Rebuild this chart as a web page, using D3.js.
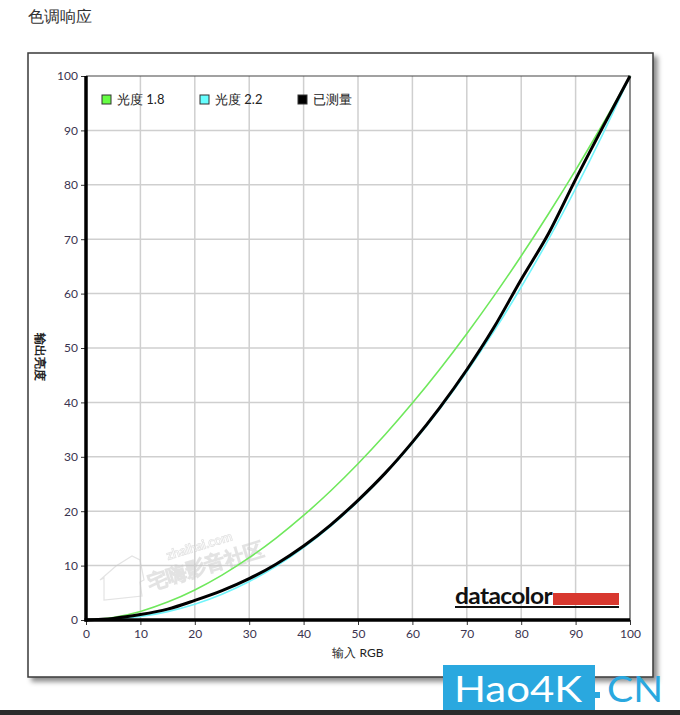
<!DOCTYPE html>
<html><head><meta charset="utf-8">
<script src="https://cdn.jsdelivr.net/npm/d3@7"></script>
<style>
body{margin:0;background:#fff;}
svg{display:block;}
text{font-family:"Lato","Open Sans","DejaVu Sans",sans-serif;}
</style></head>
<body><svg id="c" width="680" height="715"></svg>
<script>
// ---- data ----
const inputRGB = [0,5,10,15,20,25,30,35,40,45,50,55,60,65,70,75,80,85,90,95,100];
const gamma18  = [0,0.46,1.58,3.29,5.52,8.25,11.45,15.11,19.22,23.76,28.72,34.09,39.87,46.05,52.63,59.58,66.92,74.64,82.71,91.18,100];
const gamma22  = [0,0.14,0.63,1.54,2.90,4.74,7.07,9.93,13.32,17.26,21.76,26.84,32.51,38.76,45.63,53.10,61.21,69.94,79.31,89.33,100];
const measured = [0,0.3,1.0,2.0,3.6,5.4,7.6,10.3,13.6,17.5,22.0,27.0,32.7,39.0,46.0,53.8,62.6,71.0,81.0,90.6,100];
const tickValues = [0,10,20,30,40,50,60,70,80,90,100];
const seriesNames = ["光度 1.8","光度 2.2","已测量"];
const seriesColors = ["#66ff44","#66ffff","#000000"];
const lineColors = ["#6fe85c","#70f4fb","#000000"];

const svg = d3.select("#c");
const x = d3.scaleLinear().domain([0,100]).range([86,630]);
const y = d3.scaleLinear().domain([0,100]).range([620,76]);

// title
svg.append("text").attr("x",28).attr("y",22).attr("font-size",16)
  .attr("fill","#333").text("色调响应");

// frame with shadow
const defs = svg.append("defs");
const f = defs.append("filter").attr("id","sh").attr("x","-5%").attr("y","-5%").attr("width","115%").attr("height","115%");
f.append("feDropShadow").attr("dx",4).attr("dy",4).attr("stdDeviation",2.5)
  .attr("flood-color","#000").attr("flood-opacity",0.45);
svg.append("rect").attr("x",28).attr("y",53).attr("width",625).attr("height",624)
  .attr("fill","#fff").attr("stroke","#3a3a3a").attr("stroke-width",1.5).attr("filter","url(#sh)");

// grid
const g = svg.append("g");
g.selectAll(".vg").data(tickValues.slice(1,-1)).join("line")
  .attr("x1",d=>x(d)).attr("x2",d=>x(d)).attr("y1",y(100)).attr("y2",y(0))
  .attr("stroke","#cfcfcf").attr("stroke-width",1.5);
g.selectAll(".hg").data(tickValues.slice(1,-1)).join("line")
  .attr("y1",d=>y(d)).attr("y2",d=>y(d)).attr("x1",x(0)).attr("x2",x(100))
  .attr("stroke","#cfcfcf").attr("stroke-width",1.5);
// top/right border
svg.append("path").attr("d",`M${x(0)},${y(100)}H${x(100)}V${y(0)}`)
  .attr("fill","none").attr("stroke","#444").attr("stroke-width",1.2);

// watermark
const wm = svg.append("g").attr("opacity",0.5);
wm.append("text").attr("transform","translate(168,560) rotate(-17)")
  .attr("font-size",13).attr("font-weight","bold").attr("fill","#fff").attr("stroke","#c8c8c8").attr("stroke-width",0.8)
  .text("zhaihai.com");
wm.append("text").attr("transform","translate(150,590) rotate(-17)")
  .attr("font-size",20).attr("font-weight","bold").attr("fill","#fff").attr("stroke","#c8c8c8").attr("stroke-width",0.8)
  .attr("font-family","Noto Sans CJK SC").text("宅嗨影音社区");
wm.append("path").attr("d","M104,600 L104,578 L100,580 L116,566 L132,556 L140,560 L144,580 L140,582 L142,596 Z")
  .attr("fill","none").attr("stroke","#c8c8c8").attr("stroke-width",1.2);

// curves
const smooth = d3.line().x((d,i)=>x(inputRGB[i])).y(d=>y(d)).curve(d3.curveMonotoneX);
svg.append("path").datum(gamma22).attr("d",smooth).attr("fill","none")
  .attr("stroke",lineColors[1]).attr("stroke-width",1.6);
svg.append("path").datum(gamma18).attr("d",smooth).attr("fill","none")
  .attr("stroke",lineColors[0]).attr("stroke-width",1.6);
svg.append("path").datum(measured).attr("d",smooth).attr("fill","none")
  .attr("stroke",lineColors[2]).attr("stroke-width",3).attr("stroke-linejoin","round");

// axes
const ax = svg.append("g").attr("transform",`translate(0,${y(0)})`)
  .call(d3.axisBottom(x).tickValues(tickValues).tickSize(5).tickPadding(4));
const ay = svg.append("g").attr("transform",`translate(${x(0)},0)`)
  .call(d3.axisLeft(y).tickValues(tickValues).tickSize(5).tickPadding(3));
[ax,ay].forEach(a=>{
  a.select(".domain").remove();
  a.selectAll("line").attr("stroke","#333");
  a.selectAll("text").attr("font-size",12).attr("fill","#3b3450")
    .attr("font-family","Lato, 'Open Sans', sans-serif");
});
svg.append("line").attr("x1",x(0)).attr("x2",x(0)).attr("y1",y(100)).attr("y2",y(0)+1.5)
  .attr("stroke","#000").attr("stroke-width",3.5);
svg.append("line").attr("x1",x(0)-1.5).attr("x2",x(100)).attr("y1",y(0)).attr("y2",y(0))
  .attr("stroke","#000").attr("stroke-width",3.5);

// axis titles
svg.append("text").attr("x",358).attr("y",657).attr("text-anchor","middle")
  .attr("font-size",12).attr("fill","#222").text("输入 RGB");
svg.append("text").attr("transform","translate(36,357) rotate(90)").attr("text-anchor","middle")
  .attr("font-size",12).attr("font-weight","bold").attr("fill","#222").text("输出亮度");

// legend
const legX = [102,200,298];
const lg = svg.selectAll(".lg").data(seriesNames).join("g")
  .attr("transform",(d,i)=>`translate(${legX[i]},95)`);
lg.append("rect").attr("width",9).attr("height",9)
  .attr("fill",(d,i)=>seriesColors[i]).attr("stroke","#333").attr("stroke-width",1);
lg.append("text").attr("x",15).attr("y",9).attr("font-size",13).attr("fill","#222").text(d=>d);

// datacolor logo
svg.append("text").attr("x",455).attr("y",604).attr("font-size",22).attr("font-weight","bold")
  .attr("font-family","'DejaVu Sans', sans-serif").attr("letter-spacing",-0.6)
  .attr("fill","#111").attr("textLength",97).attr("lengthAdjust","spacingAndGlyphs").text("datacolor");
svg.append("rect").attr("x",553).attr("y",593).attr("width",66).attr("height",12).attr("fill","#d8382f");
svg.append("rect").attr("x",455).attr("y",606).attr("width",164).attr("height",2).attr("fill","#111");

// bottom bar + Hao4K badge
svg.append("rect").attr("x",0).attr("y",710).attr("width",680).attr("height",5).attr("fill","#2b2b2b");
svg.append("rect").attr("x",443).attr("y",665).attr("width",152).attr("height",45).attr("fill","#2aa8df");
svg.append("text").attr("x",454).attr("y",702).attr("font-size",36).attr("fill","#fff")
  .attr("font-family","'Liberation Sans', Arial, sans-serif").attr("textLength",128).attr("lengthAdjust","spacingAndGlyphs").text("Hao4K");
svg.append("rect").attr("x",595).attr("y",692).attr("width",5).attr("height",6).attr("fill","#2aa8df");
svg.append("text").attr("x",607).attr("y",702).attr("font-size",36).attr("fill","#2aa8df")
  .attr("font-family","'Liberation Sans', Arial, sans-serif").attr("textLength",56).attr("lengthAdjust","spacingAndGlyphs").text("CN");
</script></body></html>
